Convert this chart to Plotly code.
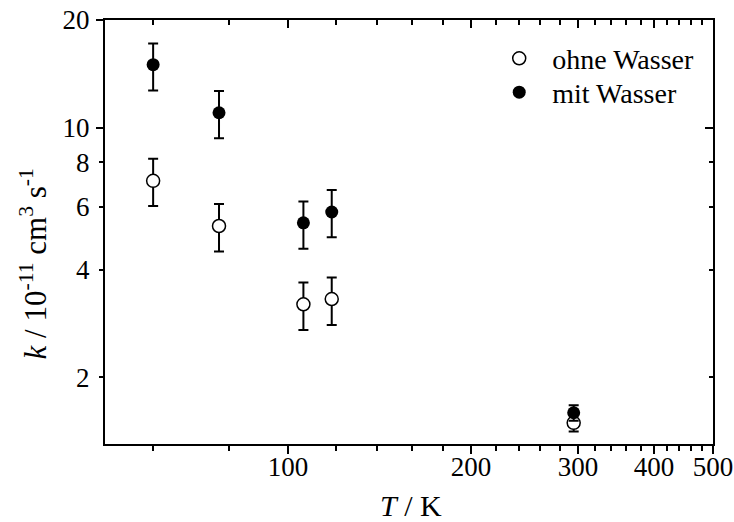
import math
import plotly.graph_objects as go

# Data
T = [60, 77, 106, 118, 295]
k_ohne = [7.09, 5.30, 3.20, 3.31, 1.49]
k_ohne_plus = [1.08, 0.81, 0.48, 0.49, 0.08]
k_ohne_minus = [1.06, 0.80, 0.49, 0.51, 0.08]
k_mit = [15.0, 11.0, 5.41, 5.80, 1.59]
k_mit_plus = [2.2, 1.65, 0.80, 0.88, 0.08]
k_mit_minus = [2.3, 1.67, 0.83, 0.87, 0.08]

x_major = [100, 200, 300, 400, 500]
x_minor = [60, 80, 120, 140, 160, 180, 220, 240, 260, 280,
           320, 340, 360, 380, 420, 440, 460, 480]
y_labeled = [2, 4, 6, 8, 10, 20]
y_major = [10, 20]
y_minor = [2, 4, 6, 8]

FONT = "Liberation Serif, Times New Roman, serif"
xr = [math.log10(50), math.log10(500)]
yr = [math.log10(1.3), math.log10(20)]

fig = go.Figure()
fig.add_trace(go.Scatter(
    x=T, y=k_ohne, mode="markers", name="ohne Wasser", legend="legend",
    marker=dict(symbol="circle", size=13, color="white",
                line=dict(color="black", width=1.5)),
    error_y=dict(type="data", array=k_ohne_plus, arrayminus=k_ohne_minus,
                 color="black", thickness=2, width=5),
))
fig.add_trace(go.Scatter(
    x=T, y=k_mit, mode="markers", name="mit Wasser", legend="legend2",
    marker=dict(symbol="circle", size=13, color="black",
                line=dict(color="black", width=0)),
    error_y=dict(type="data", array=k_mit_plus, arrayminus=k_mit_minus,
                 color="black", thickness=2, width=5),
))
# invisible helper traces so that the mirrored tick axes are drawn
fig.add_trace(go.Scatter(x=T, y=k_mit, xaxis="x2", yaxis="y2", mode="markers",
                         marker=dict(opacity=0), showlegend=False, hoverinfo="skip"))
fig.add_trace(go.Scatter(x=T, y=k_mit, xaxis="x", yaxis="y3", mode="markers",
                         marker=dict(opacity=0), showlegend=False, hoverinfo="skip"))

tickfont = dict(family=FONT, size=27, color="black")
legfont = dict(family=FONT, size=28, color="black")

fig.update_layout(
    width=734, height=522,
    margin=dict(l=105, r=21, t=20, b=78, autoexpand=False),
    paper_bgcolor="white", plot_bgcolor="white",
    font=dict(family=FONT, color="black"),
    showlegend=True,
    legend=dict(x=0.627, y=0.968, xanchor="left", yanchor="top",
                bgcolor="rgba(0,0,0,0)", borderwidth=0, font=legfont,
                itemwidth=56),
    legend2=dict(x=0.627, y=0.888, xanchor="left", yanchor="top",
                 bgcolor="rgba(0,0,0,0)", borderwidth=0, font=legfont,
                 itemwidth=56),
    xaxis=dict(type="log", range=xr, tickmode="array", tickvals=x_major,
               ticktext=[str(v) for v in x_major], automargin=False,
               ticks="outside", ticklen=8, tickwidth=2, tickcolor="black",
               showline=True, linewidth=2, linecolor="black", mirror=False,
               showgrid=False, zeroline=False, tickfont=tickfont,
               ticklabelstandoff=-10,
               minor=dict(tickmode="array", tickvals=x_minor, ticks="outside",
                          ticklen=5, tickwidth=2, tickcolor="black", showgrid=False)),
    xaxis2=dict(type="log", range=xr, overlaying="x", side="top", anchor="y",
                tickmode="array", tickvals=x_major, showticklabels=False,
                automargin=False,
                ticks="inside", ticklen=8, tickwidth=2, tickcolor="black",
                showline=True, linewidth=2, linecolor="black",
                showgrid=False, zeroline=False,
                minor=dict(tickmode="array", tickvals=x_minor, ticks="inside",
                           ticklen=5, tickwidth=2, tickcolor="black", showgrid=False)),
    yaxis=dict(type="log", range=yr, tickmode="array", tickvals=y_labeled,
               ticktext=[str(v) for v in y_labeled], automargin=False,
               ticks="outside", ticklen=4, tickwidth=2, tickcolor="black",
               showline=True, linewidth=2, linecolor="black", mirror=False,
               showgrid=False, zeroline=False, tickfont=tickfont,
               ticklabelstandoff=4),
    yaxis3=dict(type="log", range=yr, overlaying="y", side="left", anchor="x",
                tickmode="array", tickvals=y_major, showticklabels=False,
                automargin=False,
                ticks="outside", ticklen=8, tickwidth=2, tickcolor="black",
                showline=False, showgrid=False, zeroline=False),
    yaxis2=dict(type="log", range=yr, overlaying="y", side="right", anchor="x",
                tickmode="array", tickvals=y_major, showticklabels=False,
                automargin=False,
                ticks="inside", ticklen=8, tickwidth=2, tickcolor="black",
                showline=True, linewidth=2, linecolor="black",
                showgrid=False, zeroline=False,
                minor=dict(tickmode="array", tickvals=y_minor, ticks="inside",
                           ticklen=4, tickwidth=2, tickcolor="black", showgrid=False)),
)

fig.add_annotation(
    text="<i>k</i> / 10<sup>-11</sup> cm<sup>3</sup> s<sup>-1</sup>",
    xref="paper", yref="paper", x=-0.118, y=0.424,
    xanchor="center", yanchor="middle", textangle=-90, showarrow=False,
    font=dict(family=FONT, size=31, color="black"),
)
fig.add_annotation(
    text="<i>T</i> / K",
    xref="paper", yref="paper", x=0.503, y=-0.144,
    xanchor="center", yanchor="middle", showarrow=False,
    font=dict(family=FONT, size=30, color="black"),
)

fig.write_html("out.html")
